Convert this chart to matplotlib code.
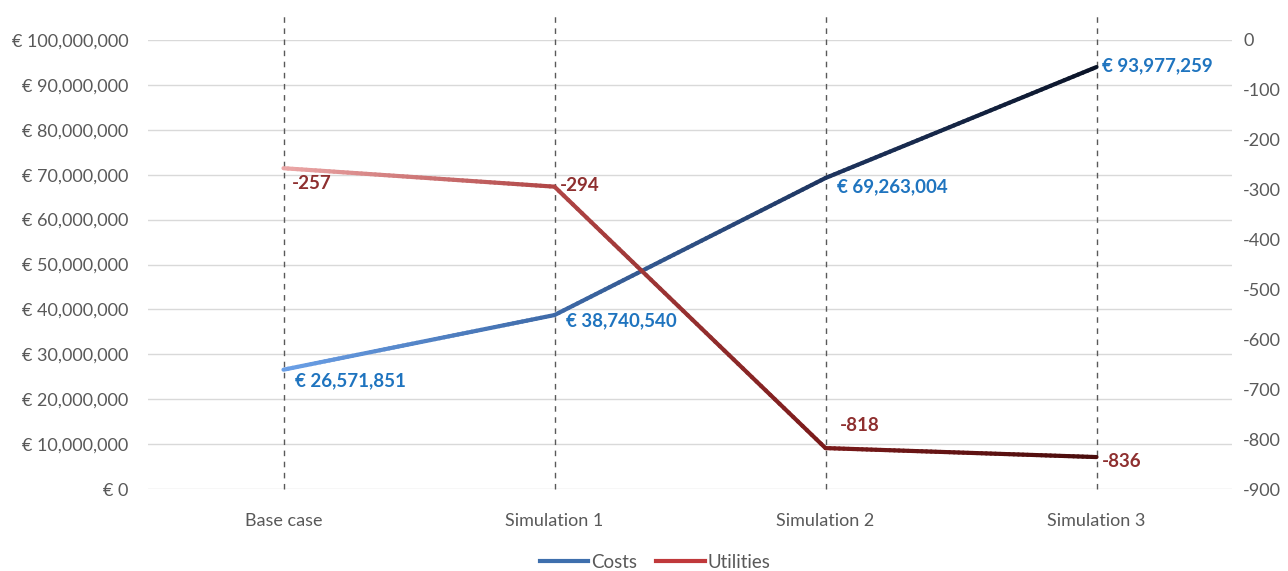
import numpy as np
import matplotlib
matplotlib.use("Agg")
import matplotlib.pyplot as plt
from matplotlib.collections import LineCollection
from matplotlib.colors import LinearSegmentedColormap
from matplotlib.lines import Line2D

plt.rcParams['font.family'] = ['Lato', 'DejaVu Sans']

categories = ["Base case", "Simulation 1", "Simulation 2", "Simulation 3"]
costs = [26571851, 38740540, 69263004, 93977259]
utilities = [-257, -294, -818, -836]
cost_labels = ["€ 26,571,851", "€ 38,740,540", "€ 69,263,004", "€ 93,977,259"]
util_labels = ["-257", "-294", "-818", "-836"]

fig = plt.figure(figsize=(12.88, 5.71), dpi=100)
ax = fig.add_axes([148/1288, 1 - 489/571, (1232-148)/1288, (489-40)/571])
ax2 = ax.twinx()

x = np.arange(len(categories))
ax.set_xlim(-0.5, 3.5)
ax.set_ylim(0, 100_000_000)
ax2.set_ylim(-900, 0)

grid_c = "#d9d9d9"
ax.set_yticks(np.arange(0, 100_000_001, 10_000_000))
ax.set_yticklabels([f"€ {v:,.0f}" for v in np.arange(0, 100_000_001, 10_000_000)])
ax.grid(axis='y', color=grid_c, linewidth=1)
ax.set_axisbelow(True)
ax2.set_yticks(np.arange(-900, 1, 100))
ax2.set_yticklabels([f"{v}" if v != 0 else "0" for v in np.arange(-900, 1, 100)])

for a in (ax, ax2):
    for s in a.spines.values():
        s.set_visible(False)
    a.tick_params(length=0, labelsize=13, labelcolor="#595959")
ax.tick_params(axis='y', pad=14)
ax2.tick_params(axis='y', pad=8)
ax.set_xticks(x)
ax.set_xticklabels(categories)
ax.tick_params(axis='x', pad=17)

for xi in x:
    ax.axvline(xi, ymin=0, ymax=1.055, color="#595959", linestyle=(0, (4, 4)),
               linewidth=1, zorder=1, clip_on=False)

def gradient_line(axis, xs, ys, colors, lw=3):
    cmap = LinearSegmentedColormap.from_list("g", colors)
    xf, yf = [], []
    for i in range(len(xs) - 1):
        t = np.linspace(0, 1, 60)
        xf.append(xs[i] + (xs[i+1] - xs[i]) * t)
        yf.append(ys[i] + (ys[i+1] - ys[i]) * t)
    xf = np.concatenate(xf); yf = np.concatenate(yf)
    pts = np.column_stack([xf, yf]).reshape(-1, 1, 2)
    segs = np.concatenate([pts[:-1], pts[1:]], axis=1)
    lc = LineCollection(segs, cmap=cmap, linewidth=lw, capstyle='round', zorder=3)
    lc.set_array((xf[:-1] - xf.min()) / (xf.max() - xf.min()))
    axis.add_collection(lc)

gradient_line(ax, x, costs, ["#6a9fe6", "#3e6aa8", "#1e3560", "#0b1428"])
gradient_line(ax2, x, utilities, ["#eba7a7", "#b04545", "#7a1a1a", "#4a0c0c"])

blue_t = "#1f74bf"
red_t = "#8e2f2f"
lab_kw = dict(fontsize=13.5, fontweight='bold')
offs_c = [(8, -8), (8, -4), (8, -6), (4, 1)]
for xi, v, l, o in zip(x, costs, cost_labels, offs_c):
    ax.annotate(l, (xi, v), xytext=o, textcoords='offset points', color=blue_t,
                ha='left', va='center', **lab_kw, zorder=5)
offs_u = [(6, -11), (4, 1), (10, 16), (4, -3)]
for xi, v, l, o in zip(x, utilities, util_labels, offs_u):
    ax2.annotate(l, (xi, v), xytext=o, textcoords='offset points', color=red_t,
                 ha='left', va='center', **lab_kw, zorder=5)

handles = [Line2D([], [], color="#3e6fad", lw=3), Line2D([], [], color="#c0393b", lw=3)]
fig.legend(handles, ["Costs", "Utilities"], loc='center', bbox_to_anchor=(655/1288, 1 - 562/571),
           ncol=2, frameon=False, fontsize=13.5, handlelength=2.6, columnspacing=1.0,
           handletextpad=0.15, labelcolor="#595959")

fig.savefig("out.png", dpi=100)
